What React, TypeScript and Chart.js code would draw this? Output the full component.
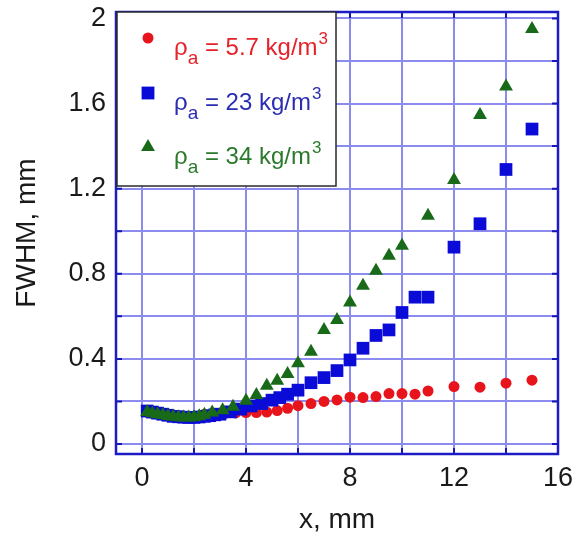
import React, { useEffect, useRef } from 'react';
import { Chart, registerables } from 'chart.js';

Chart.register(...registerables);

// ---- data (x in mm, FWHM in mm) ----
const xRed = [0.2, 0.4, 0.6, 0.8, 1.0, 1.2, 1.4, 1.6, 1.8, 2.0, 2.4, 2.8, 3.2, 3.6, 4.0, 4.4, 4.8, 5.2, 5.6, 6.0, 6.5, 7.0, 7.5, 8.0, 8.5, 9.0, 9.5, 10.0, 10.5, 11.0, 12, 13, 14, 15];
const yRed = [0.15, 0.145, 0.14, 0.136, 0.132, 0.129, 0.127, 0.126, 0.127, 0.13, 0.14, 0.142, 0.144, 0.146, 0.148, 0.148, 0.15, 0.157, 0.168, 0.18, 0.19, 0.2, 0.207, 0.22, 0.218, 0.223, 0.237, 0.237, 0.234, 0.249, 0.27, 0.267, 0.286, 0.3];

const xBlue = [0.2, 0.4, 0.6, 0.8, 1.0, 1.2, 1.4, 1.6, 1.8, 2.0, 2.2, 2.4, 2.6, 2.8, 3.0, 3.4, 3.8, 4.2, 4.6, 5.0, 5.3, 5.6, 6.0, 6.5, 7.0, 7.5, 8.0, 8.5, 9.0, 9.5, 10.0, 10.5, 11.0, 12, 13, 14, 15];
const yBlue = [0.155, 0.15, 0.145, 0.14, 0.135, 0.13, 0.128, 0.126, 0.125, 0.125, 0.127, 0.13, 0.133, 0.137, 0.14, 0.151, 0.164, 0.179, 0.19, 0.206, 0.218, 0.234, 0.253, 0.288, 0.312, 0.345, 0.395, 0.45, 0.51, 0.536, 0.618, 0.69, 0.69, 0.925, 1.035, 1.29, 1.48];

const xGreen = [0.2, 0.4, 0.6, 0.8, 1.0, 1.2, 1.4, 1.6, 1.8, 2.0, 2.2, 2.4, 2.7, 3.1, 3.5, 4.0, 4.4, 4.8, 5.2, 5.6, 6.0, 6.5, 7.0, 7.5, 8.0, 8.5, 9.0, 9.5, 10.0, 11, 12, 13, 14, 15];
const yGreen = [0.15, 0.145, 0.14, 0.136, 0.132, 0.128, 0.126, 0.125, 0.125, 0.126, 0.13, 0.138, 0.148, 0.159, 0.175, 0.203, 0.23, 0.274, 0.297, 0.329, 0.379, 0.434, 0.536, 0.583, 0.665, 0.744, 0.814, 0.885, 0.932, 1.073, 1.24, 1.546, 1.68, 1.95];

const seriesDensity = ['5.7', '23', '34'];
const xGridTicks = [0, 2, 4, 6, 8, 10, 12, 14, 16];
const xTickLabels = [0, 4, 8, 12, 16];
const yGridTicks = [0, 0.2, 0.4, 0.6, 0.8, 1.0, 1.2, 1.4, 1.6, 1.8, 2.0];
const yTickLabels = ['0', '0.4', '0.8', '1.2', '1.6', '2'];
const xTitle = 'x, mm';
const yTitle = 'FWHM, mm';

const FONT = 'Arial, "Liberation Sans", Helvetica, sans-serif';
const markerColors = ['#e8141b', '#0b0bd8', '#186a18'];
const textColors = ['#e5222a', '#2a2db2', '#2b7a2b'];
const markerStyles = ['circle', 'rect', 'triangle'];

function pts(xs: number[], ys: number[]) {
  return xs.map((x, i) => ({ x, y: ys[i] }));
}

function drawMarker(ctx: CanvasRenderingContext2D, style: string, x: number, y: number, color: string) {
  ctx.fillStyle = color;
  ctx.beginPath();
  if (style === 'circle') {
    ctx.arc(x, y, 5.5, 0, Math.PI * 2);
  } else if (style === 'rect') {
    ctx.rect(x - 6.4, y - 6.4, 12.8, 12.8);
  } else {
    const r = 8;
    ctx.moveTo(x, y - r);
    ctx.lineTo(x + r * 0.866, y + r * 0.5);
    ctx.lineTo(x - r * 0.866, y + r * 0.5);
    ctx.closePath();
  }
  ctx.fill();
}

const framePlugin = {
  id: 'frameAndLegend',
  afterDatasetsDraw(chart: any) {
    const { ctx, chartArea, scales } = chart;
    const { left, right, top, bottom } = chartArea;
    ctx.save();
    // inner tick marks
    ctx.strokeStyle = '#1616b4';
    ctx.lineWidth = 2;
    ctx.beginPath();
    yGridTicks.forEach((v) => {
      const py = scales.y.getPixelForValue(v);
      ctx.moveTo(left, py);
      ctx.lineTo(left + 6, py);
      ctx.moveTo(right, py);
      ctx.lineTo(right - 6, py);
    });
    xGridTicks.forEach((v) => {
      const px = scales.x.getPixelForValue(v);
      ctx.moveTo(px, bottom);
      ctx.lineTo(px, bottom - 6);
      ctx.moveTo(px, top);
      ctx.lineTo(px, top + 6);
    });
    ctx.stroke();
    // frame
    ctx.strokeStyle = '#1c1cc4';
    ctx.lineWidth = 2.5;
    ctx.strokeRect(left, top, right - left, bottom - top);

    // legend box
    const bx = left + 1;
    const by = top;
    const bw = 219;
    const bh = 174;
    ctx.fillStyle = '#ffffff';
    ctx.fillRect(bx, by, bw, bh);
    ctx.strokeStyle = '#2a2a2a';
    ctx.lineWidth = 1.5;
    ctx.strokeRect(bx, by, bw, bh);

    const baselines = [43, 98, 152];
    const markerYs = [26, 81, 135];
    chart.data.datasets.forEach((ds: any, i: number) => {
      drawMarker(ctx, markerStyles[i], bx + 31, by + markerYs[i], markerColors[i]);
      let x = bx + 57;
      const base = by + baselines[i];
      ctx.fillStyle = textColors[i];
      ctx.textBaseline = 'alphabetic';
      ctx.textAlign = 'left';
      ctx.font = `24px ${FONT}`;
      ctx.fillText('ρ', x, base);
      x += ctx.measureText('ρ').width;
      ctx.font = `19px ${FONT}`;
      ctx.fillText('a', x, base + 9);
      x += ctx.measureText('a').width;
      ctx.font = `24px ${FONT}`;
      const mid = ` = ${seriesDensity[i]} kg/m`;
      ctx.fillText(mid, x, base);
      x += ctx.measureText(mid).width;
      ctx.font = `17px ${FONT}`;
      ctx.fillText('3', x + 1, base - 11);
    });
    ctx.restore();
  },
};

export default function App() {
  const ref = useRef<HTMLCanvasElement | null>(null);

  useEffect(() => {
    if (!ref.current) return;
    const datasets = [
      { label: 'ρa = 5.7 kg/m3', data: pts(xRed, yRed), pointStyle: 'circle', pointRadius: 5.5, order: 2 },
      { label: 'ρa = 23 kg/m3', data: pts(xBlue, yBlue), pointStyle: 'rect', pointRadius: 9, order: 1 },
      { label: 'ρa = 34 kg/m3', data: pts(xGreen, yGreen), pointStyle: 'triangle', pointRadius: 8, order: 0 },
    ].map((d, i) => ({
      ...d,
      backgroundColor: markerColors[i],
      borderColor: markerColors[i],
      borderWidth: 0,
      pointBorderWidth: 0,
      showLine: false,
      pointHoverRadius: d.pointRadius,
    }));

    const chart = new Chart(ref.current, {
      type: 'scatter',
      data: { datasets },
      plugins: [framePlugin],
      options: {
        animation: false,
        responsive: false,
        maintainAspectRatio: false,
        events: [],
        layout: { padding: { left: 0, top: 12, right: 26, bottom: 0 } },
        plugins: { legend: { display: false }, tooltip: { enabled: false } },
        scales: {
          x: {
            type: 'linear',
            min: -1,
            max: 16,
            afterBuildTicks: (axis: any) => {
              axis.ticks = xGridTicks.map((v) => ({ value: v }));
            },
            afterFit: (axis: any) => {
              axis.height = 84;
              axis.paddingLeft = 0;
              axis.paddingRight = 0;
            },
            ticks: {
              autoSkip: false,
              maxRotation: 0,
              padding: 8,
              color: '#1a1a1a',
              font: { family: FONT, size: 27 },
              callback: (v: any) => (xTickLabels.includes(Number(v)) ? String(v) : ''),
            },
            grid: { color: '#8c8cf0', lineWidth: 2, drawTicks: false },
            border: { display: true, color: '#1c1cc4', width: 2 },
            title: {
              display: true,
              text: xTitle,
              color: '#1a1a1a',
              font: { family: FONT, size: 28 },
              padding: { top: 0, bottom: 1 },
            },
          },
          y: {
            type: 'linear',
            min: -0.047,
            max: 2.03,
            afterBuildTicks: (axis: any) => {
              axis.ticks = yGridTicks.map((v) => ({ value: v }));
            },
            afterFit: (axis: any) => {
              axis.width = 116;
              axis.paddingTop = 0;
              axis.paddingBottom = 0;
            },
            ticks: {
              autoSkip: false,
              padding: 10,
              color: '#1a1a1a',
              font: { family: FONT, size: 27 },
              callback: (v: any) => {
                const s = String(Math.round(Number(v) * 10) / 10);
                return yTickLabels.includes(s) ? s : '';
              },
            },
            grid: { color: '#8c8cf0', lineWidth: 2, drawTicks: false },
            border: { display: true, color: '#1c1cc4', width: 2 },
            title: {
              display: true,
              text: yTitle,
              color: '#1a1a1a',
              font: { family: FONT, size: 28 },
              padding: { top: 10, bottom: 0 },
            },
          },
        },
      },
    } as any);
    return () => chart.destroy();
  }, []);

  return (
    <div style={{ position: 'absolute', left: 0, top: 0, width: 584, height: 538, background: '#ffffff' }}>
      <canvas ref={ref} width={584} height={538} style={{ display: 'block', width: 584, height: 538 }} />
    </div>
  );
}
